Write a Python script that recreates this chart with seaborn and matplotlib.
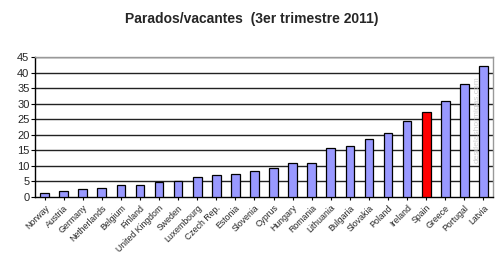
import matplotlib
matplotlib.use("Agg")
import matplotlib.pyplot as plt
import seaborn as sns
import pandas as pd

countries = ["Norway", "Austria", "Germany", "Netherlands", "Belgium", "Finland",
             "United Kingdom", "Sweden", "Luxembourg", "Czech Rep.", "Estonia",
             "Slovenia", "Cyprus", "Hungary", "Romania", "Lithuania", "Bulgaria",
             "Slovakia", "Poland", "Ireland", "Spain", "Greece", "Portugal", "Latvia"]
values = [1.3, 2.0, 2.5, 2.8, 4.0, 4.0, 4.9, 5.3, 6.4, 7.1, 7.5,
          8.4, 9.4, 10.8, 11.0, 15.8, 16.3, 18.8, 20.7, 24.5, 27.3, 30.7, 36.2, 42.2]
highlight = "Spain"
yticks = list(range(0, 50, 5))
title = "Parados/vacantes  (3er trimestre 2011)"

sns.set_theme(style="white")
plt.rcParams['font.family'] = ['Liberation Sans', 'DejaVu Sans']

df = pd.DataFrame({"country": countries, "value": values})
palette = {c: ("#FF0000" if c == highlight else "#9999FF") for c in countries}

fig = plt.figure(figsize=(5.04, 2.67), dpi=100)
ax = fig.add_axes([35/504, 1-197/267, (493-35)/504, 140/267])
sns.barplot(data=df, x="country", y="value", hue="country", palette=palette,
            legend=False, width=0.45, saturation=1, edgecolor="black",
            linewidth=0.9, ax=ax, zorder=3)
ax.set_ylim(0, 45)
ax.set_yticks(yticks)
ax.set_xlim(-0.5, len(countries) - 0.5)
for y in yticks[1:]:
    ax.axhline(y, color="#222222", lw=1.0, zorder=1)
ax.set_xlabel("")
ax.set_ylabel("")
ax.tick_params(axis="y", labelsize=8, length=3, width=0.8, color="black", pad=1, direction="out", left=True)
ax.tick_params(axis="x", labelsize=6.3, length=2.5, width=0.8, color="black", pad=2, bottom=True)
ax.set_xticks(range(len(countries)))
ax.set_xticklabels(countries, rotation=45, ha="right", rotation_mode="anchor")
for s in ["left", "bottom"]:
    ax.spines[s].set_color("black")
    ax.spines[s].set_linewidth(1.0)
for s in ["top", "right"]:
    ax.spines[s].set_color("#999999")
    ax.spines[s].set_linewidth(1.0)
ax.text(0.965, 0.55, "desdelashormigas.com", transform=ax.transAxes, rotation=90,
        ha="center", va="center", fontsize=6, color="#d0d0d0", zorder=2)
fig.text(0.5, 1-19/267, title, ha="center", va="center", fontsize=10, fontweight="bold")
fig.savefig("out.png", dpi=100)
